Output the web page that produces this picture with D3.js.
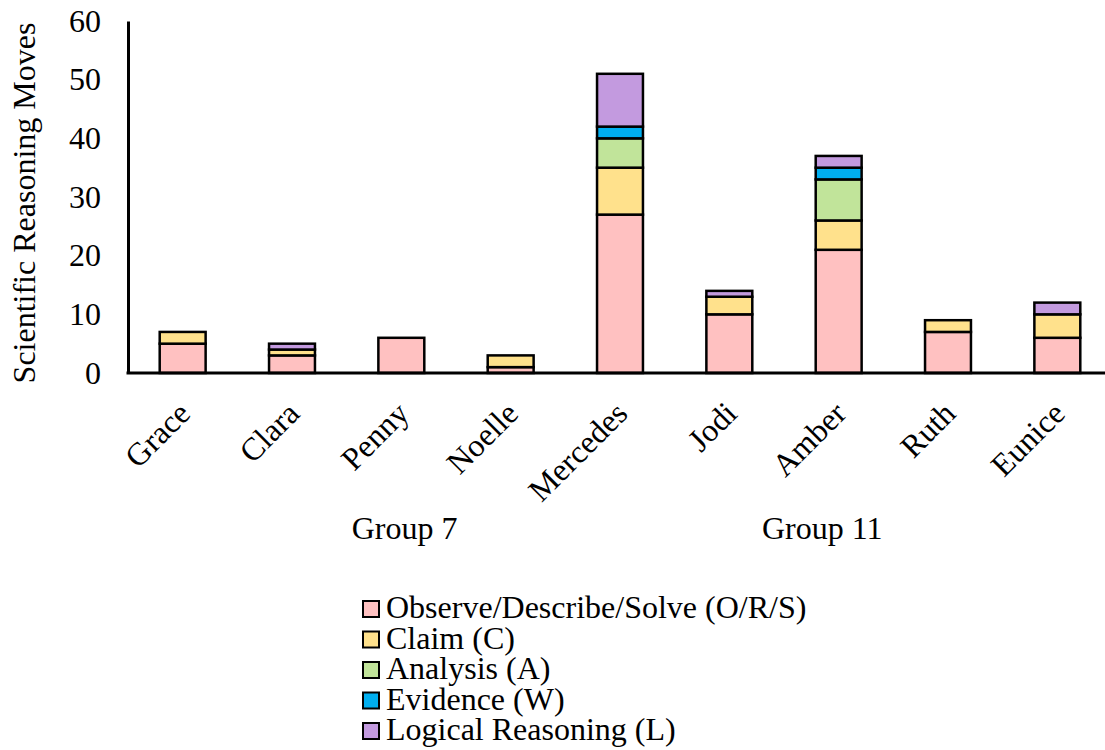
<!DOCTYPE html>
<html>
<head>
<meta charset="utf-8">
<script src="https://cdn.jsdelivr.net/npm/d3@7"></script>
<style>
  body { margin: 0; background: #fff; }
  text { font-family: "Liberation Serif", "Times New Roman", serif; fill: #000; }
</style>
</head>
<body>
<svg></svg>
<script>
const [svgWidth, svgHeight] = [1105, 750];

// data
const students = ['Grace', 'Clara', 'Penny', 'Noelle', 'Mercedes', 'Jodi', 'Amber', 'Ruth', 'Eunice'];
const seriesNames = ['Observe/Describe/Solve (O/R/S)', 'Claim (C)', 'Analysis (A)', 'Evidence (W)', 'Logical Reasoning (L)'];
const observe  = [5, 3, 6, 1, 27, 10, 21, 7, 6];
const claim    = [2, 1, 0, 2, 8, 3, 5, 2, 4];
const analysis = [0, 0, 0, 0, 5, 0, 7, 0, 0];
const evidence = [0, 0, 0, 0, 2, 0, 2, 0, 0];
const logical  = [0, 1, 0, 0, 9, 1, 2, 0, 2];
const yTicks = [0, 10, 20, 30, 40, 50, 60];
const groupNames = ['Group 7', 'Group 11'];
const groupCenters = [2.03, 5.85]; // category index under which the group label sits

const colors = ['#FFC1C1', '#FFE18C', '#C1E49A', '#00AEEF', '#C39ADF'];
const fontSize = '32px';

const rows = students.map((s, i) => ({
  name: s,
  s0: observe[i], s1: claim[i], s2: analysis[i], s3: evidence[i], s4: logical[i]
}));
const keys = ['s0', 's1', 's2', 's3', 's4'];
const stacked = d3.stack().keys(keys)(rows);

const plotLeft = 128;
const plotTop = 21;
const plotBottom = 373;

const svg = d3.select('svg')
  .attr('width', svgWidth)
  .attr('height', svgHeight);

const x = d3.scaleBand()
  .domain(students)
  .range([plotLeft, 1112])
  .paddingInner(0.58)
  .paddingOuter(0.29);
const y = d3.scaleLinear()
  .domain([0, 60])
  .range([plotBottom, plotTop]);

// bars
const layers = svg.append('g')
  .selectAll('g')
  .data(stacked)
  .join('g')
  .attr('fill', (d, i) => colors[i]);
layers.selectAll('rect')
  .data(d => d.filter(v => v[1] - v[0] > 0).map(v => ({ v, name: v.data.name })))
  .join('rect')
  .attr('x', d => x(d.name))
  .attr('width', x.bandwidth())
  .attr('y', d => y(d.v[1]))
  .attr('height', d => y(d.v[0]) - y(d.v[1]))
  .attr('stroke', '#000')
  .attr('stroke-width', 2.5);

// y axis
const yAxis = svg.append('g')
  .attr('transform', `translate(${plotLeft}, 0)`)
  .call(d3.axisLeft(y).tickValues(yTicks).tickSize(0).tickPadding(27));
yAxis.select('.domain').attr('stroke', '#000').attr('stroke-width', 3);
yAxis.selectAll('text')
  .style('font-size', fontSize)
  .style('font-family', '"Liberation Serif", serif');

// x axis line
svg.append('line')
  .attr('x1', plotLeft - 1.5)
  .attr('x2', svgWidth)
  .attr('y1', plotBottom)
  .attr('y2', plotBottom)
  .attr('stroke', '#000')
  .attr('stroke-width', 3);

// x labels
svg.append('g')
  .selectAll('text')
  .data(students)
  .join('text')
  .attr('transform', d => `translate(${x(d) + x.bandwidth() / 2 - 7}, ${plotBottom + 26}) rotate(-45)`)
  .attr('text-anchor', 'end')
  .attr('dominant-baseline', 'hanging')
  .style('font-size', fontSize)
  .text(d => d);

// group labels
const step = x.step();
svg.append('g')
  .selectAll('text')
  .data(groupNames)
  .join('text')
  .attr('x', (d, i) => x(students[0]) + x.bandwidth() / 2 + groupCenters[i] * step)
  .attr('y', 539)
  .attr('text-anchor', 'middle')
  .style('font-size', fontSize)
  .text(d => d);

// y title
svg.append('text')
  .attr('transform', `translate(35, ${(plotBottom + plotTop) / 2 + 6}) rotate(-90)`)
  .attr('text-anchor', 'middle')
  .style('font-size', fontSize)
  .text('Scientific Reasoning Moves');

// legend
const legend = svg.append('g')
  .attr('transform', 'translate(363, 601)');
const li = legend.selectAll('g')
  .data(seriesNames)
  .join('g')
  .attr('transform', (d, i) => `translate(0, ${i * 30.5})`);
li.append('rect')
  .attr('width', 16)
  .attr('height', 16)
  .attr('fill', (d, i) => colors[i])
  .attr('stroke', '#000')
  .attr('stroke-width', 2);
li.append('text')
  .attr('x', 23)
  .attr('y', 17)
  .style('font-size', fontSize)
  .text(d => d);
</script>
</body>
</html>
